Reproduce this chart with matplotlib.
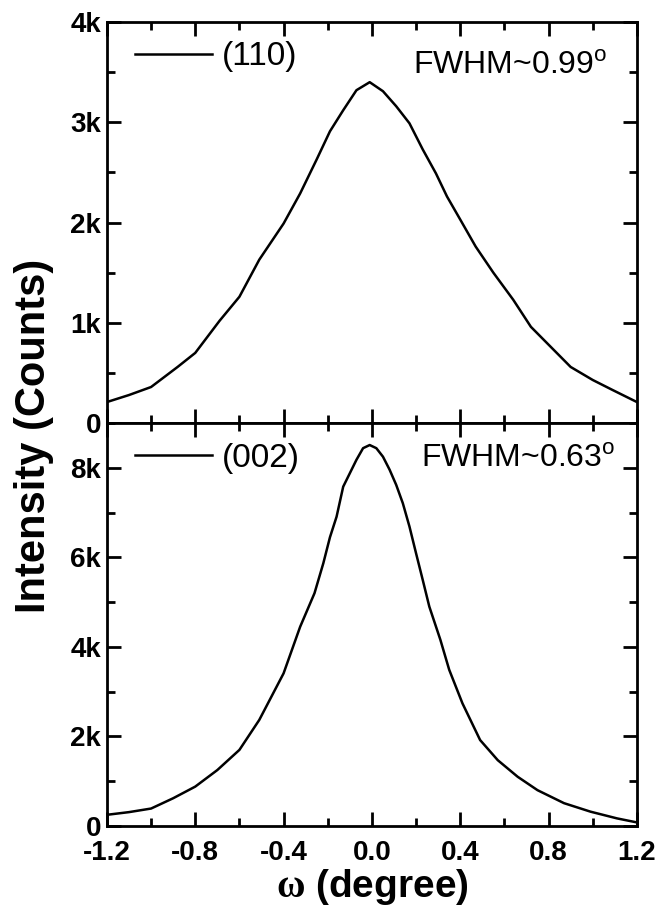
import numpy as np
import matplotlib
matplotlib.use("Agg")
import matplotlib.pyplot as plt
from matplotlib.ticker import MultipleLocator

plt.rcParams['font.family'] = ['Liberation Sans', 'DejaVu Sans']
plt.rcParams['mathtext.fontset'] = 'custom'
plt.rcParams['mathtext.rm'] = 'Liberation Serif'
plt.rcParams['mathtext.bf'] = 'Liberation Serif:bold'

# (110) rocking curve
w110 = [-1.2, -1.1, -1.0, -0.88, -0.8, -0.69, -0.6, -0.51, -0.4, -0.325, -0.25, -0.19,
        -0.13, -0.07, -0.01, 0.05, 0.11, 0.17, 0.23, 0.29, 0.34, 0.4, 0.47, 0.55,
        0.64, 0.72, 0.81, 0.9, 1.0, 1.09, 1.2]
i110 = [210, 280, 360, 560, 700, 1020, 1260, 1630, 1990, 2290, 2630, 2910,
        3120, 3320, 3400, 3310, 3160, 2990, 2730, 2490, 2260, 2030, 1760, 1500,
        1230, 960, 760, 560, 430, 330, 210]

# (002) rocking curve
w002 = [-1.2, -1.1, -1.0, -0.9, -0.8, -0.7, -0.6, -0.51, -0.4, -0.325, -0.26, -0.22,
        -0.19, -0.16, -0.13, -0.1, -0.07, -0.04, -0.01, 0.02, 0.05, 0.08, 0.11,
        0.14, 0.17, 0.2, 0.23, 0.26, 0.31, 0.35, 0.41, 0.49, 0.57, 0.66, 0.75,
        0.87, 0.99, 1.11, 1.2]
i002 = [250, 310, 390, 620, 880, 1250, 1700, 2370, 3410, 4450, 5200, 5870,
        6450, 6910, 7580, 7880, 8180, 8440, 8510, 8440, 8250, 7960, 7620,
        7210, 6690, 6090, 5500, 4900, 4160, 3490, 2740, 1920, 1470, 1100, 800,
        510, 320, 170, 80]

ytick_top = [0, 1000, 2000, 3000, 4000]
ylab_top = ['0', '1k', '2k', '3k', '4k']
ytick_bot = [0, 2000, 4000, 6000, 8000]
ylab_bot = ['0', '2k', '4k', '6k', '8k']
xticks = [-1.2, -0.8, -0.4, 0.0, 0.4, 0.8, 1.2]
xlabs = ['-1.2', '-0.8', '-0.4', '0.0', '0.4', '0.8', '1.2']

fig = plt.figure(figsize=(6.6, 9.06), dpi=100)
ax1 = fig.add_axes([0.162, 0.533, 0.803, 0.4427])
ax2 = fig.add_axes([0.162, 0.0883, 0.803, 0.4447])

ax1.plot(w110, i110, color='black', lw=1.8, label='(110)')
ax2.plot(w002, i002, color='black', lw=1.8, label='(002)')

for ax in (ax1, ax2):
    ax.set_xlim(-1.2, 1.2)
    ax.set_xticks(xticks)
    ax.xaxis.set_minor_locator(MultipleLocator(0.2))
    ax.tick_params(which='both', direction='in', top=True, right=True, width=2)
    ax.tick_params(which='major', length=10, labelsize=20, pad=4)
    ax.tick_params(which='minor', length=6)
    ax.tick_params(axis='x', pad=10)
    for s in ax.spines.values():
        s.set_linewidth(2)

ax1.set_ylim(0, 4000)
ax1.set_yticks(ytick_top)
ax1.set_yticklabels(ylab_top, fontweight='bold')
ax1.yaxis.set_minor_locator(MultipleLocator(500))
ax1.tick_params(labelbottom=False)

ax2.set_ylim(0, 9000)
ax2.set_yticks(ytick_bot)
ax2.set_yticklabels(ylab_bot, fontweight='bold')
ax2.yaxis.set_minor_locator(MultipleLocator(1000))
ax2.set_xticklabels(xlabs, fontweight='bold')

ax1.legend(loc='center left', bbox_to_anchor=(0.053, 0.913), frameon=False,
           borderpad=0, borderaxespad=0, handlelength=2.3, handletextpad=0.3, fontsize=24)
ax2.legend(loc='center left', bbox_to_anchor=(0.053, 0.912), frameon=False,
           borderpad=0, borderaxespad=0, handlelength=2.3, handletextpad=0.3, fontsize=24)

ax1.text(0.945, 0.89, r'FWHM~0.99$^{\mathregular{o}}$', transform=ax1.transAxes,
         ha='right', va='center', fontsize=23)
ax2.text(0.96, 0.91, r'FWHM~0.63$^{\mathregular{o}}$', transform=ax2.transAxes,
         ha='right', va='center', fontsize=23)

ax2.set_xlabel(r'$\mathbf{\omega}$ (degree)', fontsize=28, fontweight='bold', labelpad=1)
fig.text(0.052, 0.519, 'Intensity (Counts)', rotation=90, ha='center', va='center',
         fontsize=30, fontweight='bold')

fig.savefig('out.png', dpi=100)
